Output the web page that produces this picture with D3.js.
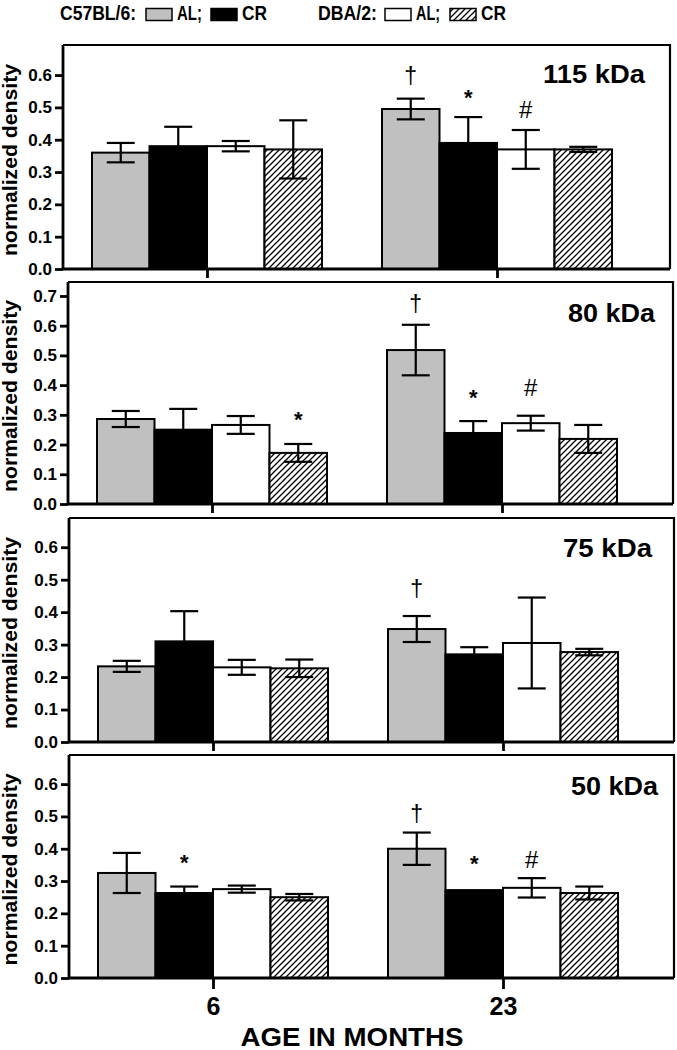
<!DOCTYPE html>
<html><head><meta charset="utf-8">
<script src="https://cdn.jsdelivr.net/npm/d3@7"></script>
<style>
html,body{margin:0;padding:0;background:#fff;}
svg{display:block;font-family:"Liberation Sans",Arial,Helvetica,sans-serif;}
</style></head>
<body>
<svg id="chart" width="677" height="1050"></svg>
<script>
// ---------- data ----------
const ages = ["6", "23"];
const series = ["C57BL/6 AL", "C57BL/6 CR", "DBA/2 AL", "DBA/2 CR"];
const panelNames = ["115 kDa", "80 kDa", "75 kDa", "50 kDa"];

// means per age (rows) x series (cols)
const means115 = [[0.360, 0.380, 0.380, 0.370], [0.495, 0.390, 0.370, 0.370]];
const errs115  = [[0.030, 0.060, 0.016, 0.090], [0.032, 0.080, 0.060, 0.008]];
const means80  = [[0.286, 0.250, 0.266, 0.172], [0.518, 0.239, 0.272, 0.219]];
const errs80   = [[0.027, 0.070, 0.030, 0.030], [0.085, 0.040, 0.025, 0.047]];
const means75  = [[0.233, 0.310, 0.230, 0.227], [0.348, 0.270, 0.305, 0.277]];
const errs75   = [[0.017, 0.093, 0.023, 0.027], [0.040, 0.022, 0.140, 0.010]];
const means50  = [[0.325, 0.263, 0.275, 0.250], [0.400, 0.272, 0.279, 0.263]];
const errs50   = [[0.062, 0.020, 0.011, 0.010], [0.050, 0.000, 0.030, 0.020]];

const yTicks115 = [0, 0.1, 0.2, 0.3, 0.4, 0.5, 0.6];
const yTicks80  = [0, 0.1, 0.2, 0.3, 0.4, 0.5, 0.6, 0.7];
const yTicks75  = [0, 0.1, 0.2, 0.3, 0.4, 0.5, 0.6];
const yTicks50  = [0, 0.1, 0.2, 0.3, 0.4, 0.5, 0.6];
const yMaxes = [0.693, 0.747, 0.69, 0.69];

// significance marks: panel index, age, series, symbol, centre value
const marks = [
  [0, "23", "C57BL/6 AL", "†", 0.597],
  [0, "23", "C57BL/6 CR", "*", 0.530],
  [0, "23", "DBA/2 AL",   "#", 0.492],
  [1, "6",  "DBA/2 CR",   "*", 0.285],
  [1, "23", "C57BL/6 AL", "†", 0.673],
  [1, "23", "C57BL/6 CR", "*", 0.359],
  [1, "23", "DBA/2 AL",   "#", 0.392],
  [2, "23", "C57BL/6 AL", "†", 0.471],
  [3, "6",  "C57BL/6 CR", "*", 0.357],
  [3, "23", "C57BL/6 AL", "†", 0.508],
  [3, "23", "C57BL/6 CR", "*", 0.353],
  [3, "23", "DBA/2 AL",   "#", 0.368]
];

const panelMeans = [means115, means80, means75, means50];
const panelErrs  = [errs115, errs80, errs75, errs50];
const panelTicks = [yTicks115, yTicks80, yTicks75, yTicks50];

// ---------- layout ----------
const frames = [
  {l: 63, r: 670, t: 45,  b: 269, ty: 83,  tw: 102},
  {l: 68, r: 673, t: 282, b: 504, ty: 322, tw: 87},
  {l: 69, r: 674, t: 518, b: 742, ty: 557, tw: 89},
  {l: 69, r: 674, t: 755, b: 978, ty: 795, tw: 87}
];
const titleRight = [645, 655, 652, 658];
const FONT = "'Liberation Sans', Arial, Helvetica, sans-serif";
const svg = d3.select("#chart");

const defs = svg.append("defs");
const P = 6;
const pat = defs.append("pattern").attr("id", "hatch")
  .attr("patternUnits", "userSpaceOnUse").attr("width", P).attr("height", P);
pat.append("rect").attr("width", P).attr("height", P).attr("fill", "#fff");
pat.append("path").attr("d", `M-1,1 L1,-1 M0,${P} L${P},0 M${P-1},${P+1} L${P+1},${P-1}`)
  .attr("stroke", "#000").attr("stroke-width", 1.3);

const fills = {"C57BL/6 AL": "#c0c0c0", "C57BL/6 CR": "#000", "DBA/2 AL": "#fff", "DBA/2 CR": "url(#hatch)"};

const x0 = d3.scalePoint().domain(ages).range([144, 434]);
const x1 = d3.scaleBand().domain(series).range([-115, 115]).padding(0);

frames.forEach((f, pi) => {
  const g = svg.append("g").attr("transform", `translate(${f.l},0)`);
  const w = f.r - f.l;
  const y = d3.scaleLinear().domain([0, yMaxes[pi]]).range([f.b, f.t]);

  // frame top/right
  g.append("path").attr("d", `M0,${f.t}H${w}V${f.b}`)
    .attr("fill", "none").attr("stroke", "#000").attr("stroke-width", 2.2);

  const rows = [];
  ages.forEach((a, ai) => series.forEach((s, si) => rows.push({
    age: a, s: s, m: panelMeans[pi][ai][si], e: panelErrs[pi][ai][si]
  })));

  // bars
  g.selectAll("rect.bar").data(rows).join("rect").attr("class", "bar")
    .attr("x", d => x0(d.age) + x1(d.s))
    .attr("width", x1.bandwidth())
    .attr("y", d => y(d.m))
    .attr("height", d => y(0) - y(d.m))
    .attr("fill", d => fills[d.s])
    .attr("stroke", "#000").attr("stroke-width", 2);

  // error bars
  const eb = g.selectAll("g.err").data(rows.filter(d => d.e > 0)).join("g").attr("class", "err")
    .attr("stroke", "#000").attr("stroke-width", 2.2).attr("fill", "none");
  const cx = d => x0(d.age) + x1(d.s) + x1.bandwidth() / 2;
  eb.append("line").attr("x1", cx).attr("x2", cx)
    .attr("y1", d => y(d.m - d.e)).attr("y2", d => y(d.m + d.e));
  eb.append("line").attr("x1", d => cx(d) - 14).attr("x2", d => cx(d) + 14)
    .attr("y1", d => y(d.m + d.e)).attr("y2", d => y(d.m + d.e));
  eb.append("line").attr("x1", d => cx(d) - 14).attr("x2", d => cx(d) + 14)
    .attr("y1", d => y(d.m - d.e)).attr("y2", d => y(d.m - d.e));

  // y axis
  const ya = g.append("g").call(d3.axisLeft(y).tickValues(panelTicks[pi])
      .tickFormat(d3.format(".1f")).tickSize(8).tickPadding(3).tickSizeOuter(0));
  ya.select(".domain").attr("d", `M0,${f.b}V${f.t}`).attr("stroke-width", 2.8);
  ya.selectAll(".tick line").attr("stroke-width", 2.8);
  ya.selectAll(".tick text").attr("font-size", 17).attr("font-weight", "bold")
    .attr("font-family", FONT).attr("fill", "#000");

  // x axis
  const xa = g.append("g").attr("transform", `translate(0,${f.b})`)
    .call(d3.axisBottom(x0).tickSize(pi === 3 ? 11 : 9).tickPadding(8).tickSizeOuter(0));
  xa.select(".domain").attr("d", `M0,0H${w}`).attr("stroke-width", 3);
  xa.selectAll(".tick line").attr("stroke-width", 2.8);
  if (pi === 3) {
    xa.selectAll(".tick text").attr("font-size", 25).attr("font-weight", "bold")
      .attr("font-family", FONT).attr("fill", "#000").attr("dy", "0.72em");
  } else {
    xa.selectAll(".tick text").remove();
  }

  // panel title
  svg.append("text").attr("x", titleRight[pi]).attr("y", f.ty)
    .attr("text-anchor", "end").attr("font-size", 25).attr("font-weight", "bold")
    .attr("font-family", FONT).attr("textLength", f.tw).attr("lengthAdjust", "spacingAndGlyphs")
    .text(panelNames[pi]);

  // y label
  svg.append("text").attr("transform", `translate(17,${(f.t + f.b) / 2 + 3}) rotate(-90)`)
    .attr("text-anchor", "middle").attr("font-size", 20).attr("font-weight", "bold")
    .attr("font-family", FONT).attr("textLength", 192).attr("lengthAdjust", "spacingAndGlyphs")
    .text("normalized density");

  // significance marks
  marks.filter(m => m[0] === pi).forEach(m => {
    const t = g.append("text")
      .attr("x", x0(m[1]) + x1(m[2]) + x1.bandwidth() / 2)
      .attr("y", 0).attr("text-anchor", "middle")
      .attr("font-family", FONT).attr("fill", "#000")
      .attr("font-size", m[3] === "†" ? 23 : (m[3] === "#" ? 24 : 22))
      .attr("font-weight", m[3] === "*" ? "bold" : "normal")
      .text(m[3]);
    const bb = t.node().getBBox();
    const target = y(m[4]);
    t.attr("y", target - (bb.y + bb.height / 2));
  });
});

// x-axis title
svg.append("text").attr("x", 352).attr("y", 1046).attr("text-anchor", "middle")
  .attr("font-size", 25).attr("font-weight", "bold").attr("font-family", FONT)
  .attr("textLength", 223).attr("lengthAdjust", "spacingAndGlyphs")
  .text("AGE IN MONTHS");

// legend
const lg = svg.append("g").attr("font-family", FONT).attr("font-weight", "bold").attr("font-size", 20);
const legendItems = [
  {type: "text", x: 60, t: "C57BL/6:", w: 76},
  {type: "box", x: 146, s: "C57BL/6 AL"},
  {type: "text", x: 177, t: "AL;", w: 25},
  {type: "box", x: 211, s: "C57BL/6 CR"},
  {type: "text", x: 242, t: "CR", w: 25},
  {type: "text", x: 318, t: "DBA/2:", w: 59},
  {type: "box", x: 385, s: "DBA/2 AL"},
  {type: "text", x: 416, t: "AL;", w: 24},
  {type: "box", x: 450, s: "DBA/2 CR"},
  {type: "text", x: 481, t: "CR", w: 25}
];
legendItems.forEach(it => {
  if (it.type === "text") {
    lg.append("text").attr("x", it.x).attr("y", 19.5)
      .attr("textLength", it.w).attr("lengthAdjust", "spacingAndGlyphs").text(it.t);
  } else {
    lg.append("rect").attr("x", it.x).attr("y", 8.5).attr("width", 26).attr("height", 12)
      .attr("fill", fills[it.s]).attr("stroke", "#000").attr("stroke-width", 1.5);
  }
});
</script>
</body></html>
